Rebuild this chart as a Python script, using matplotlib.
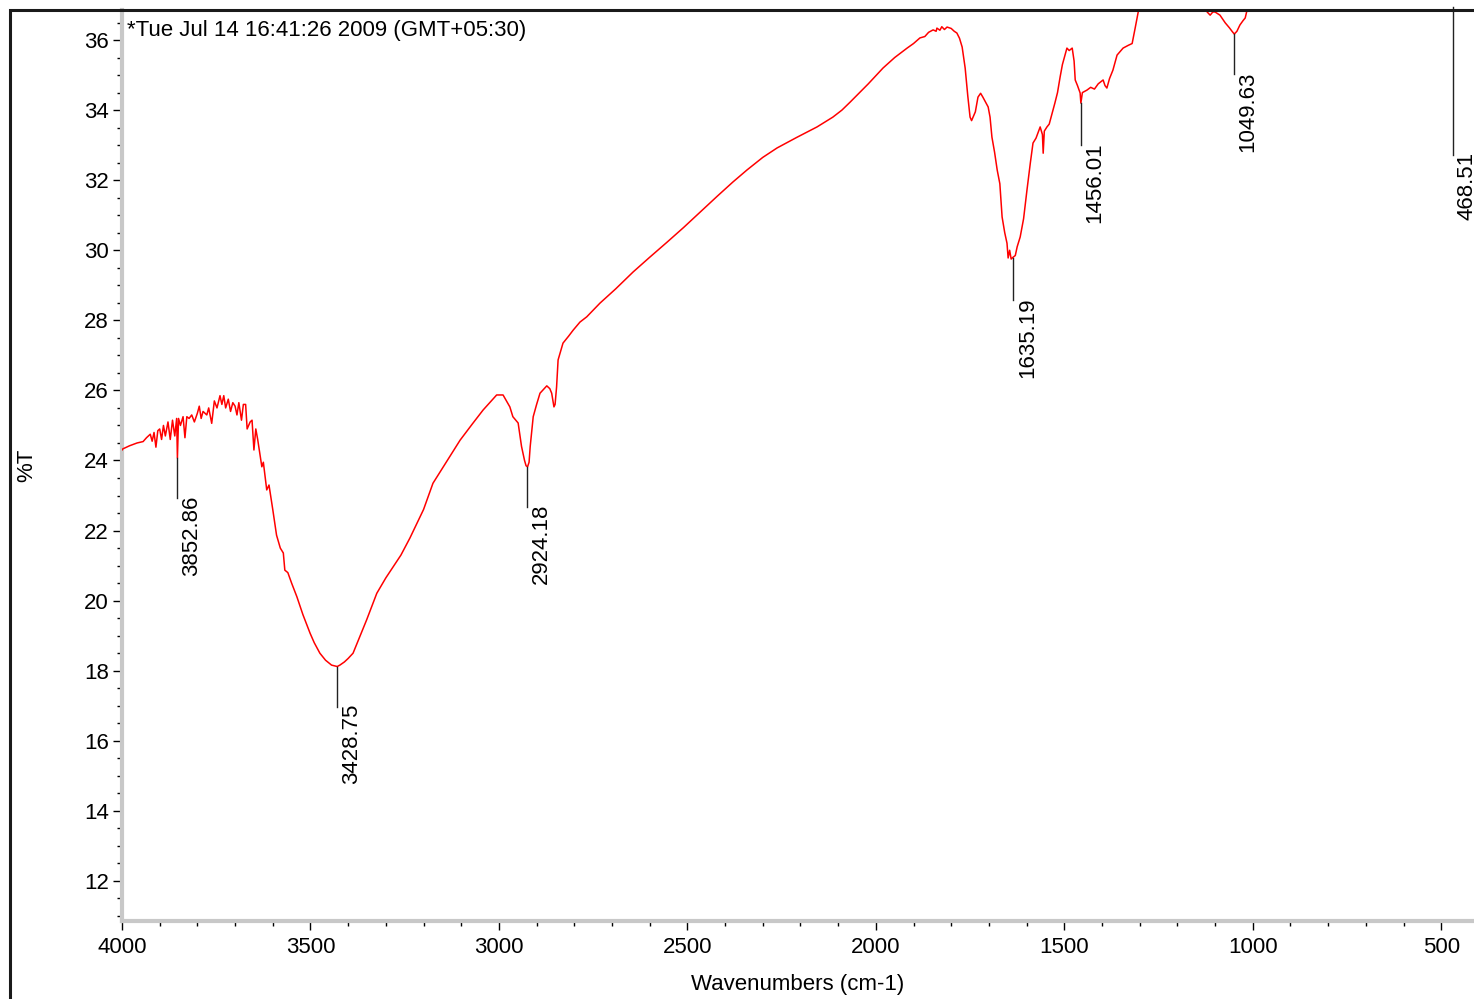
import matplotlib
matplotlib.use("Agg")
import matplotlib.pyplot as plt
from matplotlib.lines import Line2D
from matplotlib.ticker import MultipleLocator

# ---------------- data ----------------
wavenumber = [
    4000, 3998, 3980, 3960, 3944, 3935, 3925, 3920, 3915, 3910,
    3905, 3900, 3895, 3890, 3885, 3878, 3872, 3866, 3860, 3855,
    3853, 3850, 3845, 3838, 3833, 3828, 3822, 3815, 3808, 3800,
    3795, 3790, 3785, 3775, 3770, 3762, 3755, 3748, 3740, 3735,
    3730, 3725, 3718, 3712, 3706, 3700, 3695, 3690, 3683, 3678,
    3672, 3668, 3660, 3655, 3650, 3645, 3640, 3629, 3625, 3616,
    3610, 3600, 3590, 3580, 3572, 3568, 3560, 3550, 3536, 3520,
    3501, 3490, 3475, 3460, 3444, 3429, 3422, 3410, 3400, 3387,
    3370, 3351, 3324, 3300, 3281, 3260, 3236, 3200, 3175, 3140,
    3103, 3070, 3042, 3020, 3006, 2989, 2971, 2963, 2949, 2940,
    2932, 2928, 2924, 2920, 2917, 2909, 2900, 2891, 2880, 2873,
    2865, 2860, 2854, 2851, 2847, 2843, 2830, 2815, 2803, 2785,
    2767, 2732, 2690, 2644, 2600, 2554, 2510, 2466, 2420, 2379,
    2342, 2300, 2262, 2210, 2156, 2114, 2090, 2068, 2020, 1981,
    1950, 1917, 1900, 1883, 1870, 1860, 1848, 1840, 1838, 1830,
    1825, 1818, 1811, 1800, 1792, 1785, 1778, 1771, 1763, 1756,
    1750, 1746, 1742, 1736, 1729, 1722, 1716, 1710, 1702, 1697,
    1692, 1685, 1678, 1671, 1665, 1658, 1652, 1649, 1645, 1641,
    1636, 1630, 1625, 1617, 1608, 1599, 1590, 1583, 1575, 1568,
    1564, 1558, 1556, 1553, 1546, 1540, 1530, 1525, 1518, 1511,
    1505, 1500, 1493, 1487, 1479, 1474, 1471, 1465, 1458, 1456,
    1452, 1440, 1430, 1420, 1410, 1397, 1392, 1387, 1380, 1371,
    1360, 1344, 1330, 1320, 1312, 1304, 1295, 1270, 1240, 1200,
    1160, 1130, 1121, 1113, 1106, 1100, 1087, 1073, 1062, 1055,
    1049, 1042, 1034, 1026, 1020, 1015, 1005, 950, 850, 700,
    560, 500, 468, 440, 413,
]
transmittance = [
    24.30, 24.33, 24.42, 24.50, 24.54, 24.65, 24.75, 24.55, 24.80, 24.38,
    24.85, 24.90, 24.60, 25.00, 24.70, 25.10, 24.60, 25.15, 24.70, 25.20,
    24.07, 25.20, 25.00, 25.25, 24.65, 25.25, 25.20, 25.30, 25.10, 25.35,
    25.55, 25.20, 25.40, 25.30, 25.50, 25.06, 25.70, 25.50, 25.85, 25.60,
    25.85, 25.50, 25.75, 25.40, 25.65, 25.55, 25.30, 25.65, 25.15, 25.60,
    25.60, 24.90, 25.10, 25.15, 24.30, 24.90, 24.60, 23.82, 23.95, 23.16,
    23.30, 22.60, 21.87, 21.50, 21.36, 20.87, 20.80, 20.50, 20.11, 19.60,
    19.07, 18.80, 18.50, 18.30, 18.16, 18.12, 18.16, 18.25, 18.35, 18.50,
    18.95, 19.45, 20.21, 20.65, 20.96, 21.30, 21.79, 22.60, 23.35, 23.95,
    24.58, 25.05, 25.44, 25.70, 25.87, 25.87, 25.53, 25.25, 25.07, 24.40,
    24.00, 23.85, 23.82, 23.95, 24.40, 25.25, 25.60, 25.92, 26.05, 26.13,
    26.05, 25.92, 25.53, 25.60, 26.10, 26.87, 27.35, 27.55, 27.72, 27.95,
    28.10, 28.49, 28.90, 29.38, 29.80, 30.23, 30.65, 31.09, 31.55, 31.95,
    32.29, 32.65, 32.92, 33.22, 33.52, 33.80, 34.00, 34.23, 34.75, 35.20,
    35.50, 35.77, 35.90, 36.06, 36.10, 36.22, 36.29, 36.25, 36.34, 36.28,
    36.38, 36.30, 36.37, 36.33, 36.25, 36.20, 36.05, 35.80, 35.20, 34.40,
    33.80, 33.70, 33.80, 33.95, 34.37, 34.48, 34.37, 34.25, 34.09, 33.80,
    33.23, 32.80, 32.29, 31.90, 30.95, 30.50, 30.20, 29.78, 30.00, 29.75,
    29.80, 29.85, 30.10, 30.38, 30.90, 31.72, 32.50, 33.06, 33.20, 33.40,
    33.52, 33.30, 32.77, 33.40, 33.52, 33.60, 34.00, 34.20, 34.50, 34.95,
    35.30, 35.50, 35.77, 35.70, 35.77, 35.40, 34.86, 34.70, 34.49, 34.20,
    34.50, 34.57, 34.65, 34.60, 34.75, 34.86, 34.70, 34.63, 34.90, 35.14,
    35.57, 35.77, 35.85, 35.90, 36.34, 36.80, 37.30, 38.20, 38.60, 38.40,
    37.80, 37.10, 36.80, 36.71, 36.80, 36.80, 36.71, 36.49, 36.35, 36.25,
    36.17, 36.25, 36.43, 36.55, 36.63, 36.86, 37.40, 38.50, 39.50, 40.50,
    40.80, 40.60, 40.90, 40.70, 40.40,
]

peak_positions = [3852.86, 3428.75, 2924.18, 1635.19, 1456.01, 1049.63, 468.51]
peak_labels = ["3852.86", "3428.75", "2924.18", "1635.19", "1456.01", "1049.63", "468.51"]
peak_values = [24.07, 18.12, 23.82, 29.78, 34.20, 36.17, 36.95]

y_ticks = [12, 14, 16, 18, 20, 22, 24, 26, 28, 30, 32, 34, 36]
x_ticks = [4000, 3500, 3000, 2500, 2000, 1500, 1000, 500]

header_text = "*Tue Jul 14 16:41:26 2009 (GMT+05:30)"
x_label = "Wavenumbers (cm-1)"
y_label = "%T"

# ---------------- figure ----------------
plt.rcParams['font.family'] = ['Liberation Sans', 'DejaVu Sans']
FS = 16
W, H = 1474, 999
fig = plt.figure(figsize=(W / 100, H / 100), dpi=100)

left_px, right_px, top_px, bottom_px = 122, 1474, 10, 921
ax = fig.add_axes([left_px / W, 1 - bottom_px / H,
                   (right_px - left_px) / W, (bottom_px - top_px) / H])

ymin, ymax = 10.857, 36.857
ax.set_xlim(4000, 413)
ax.set_ylim(ymin, ymax)

ax.plot(wavenumber, transmittance, color='#ff0000', lw=1.1, zorder=3)

# peak markers
px_per_unit = (bottom_px - top_px) / (ymax - ymin)
line_len_px = [40, 40, 40, 42, 42, 40, 148]
for pos, lab, val, llen in zip(peak_positions, peak_labels, peak_values, line_len_px):
    y0 = val
    y1 = min(val, ymax + 0.09) - llen / px_per_unit
    ax.plot([pos, pos], [y0, y1], color='#222222', lw=1.0, clip_on=False, zorder=4)
    ax.annotate(lab, xy=(pos, y1), xytext=(2.5, 2), textcoords='offset points',
                rotation=90, ha='left', va='top', fontsize=FS, color='black',
                annotation_clip=False)

ax.text(0.004, 0.989, header_text, transform=ax.transAxes, ha='left', va='top',
        fontsize=FS)

# spines
for s in ['top', 'right']:
    ax.spines[s].set_visible(False)
for s in ['left', 'bottom']:
    ax.spines[s].set_color('#c8c8c8')
    ax.spines[s].set_linewidth(3.0)

ax.set_xticks(x_ticks)
ax.set_xticklabels([str(t) for t in x_ticks])
ax.set_yticks(y_ticks)
ax.set_yticklabels([str(t) for t in y_ticks])
ax.xaxis.set_minor_locator(MultipleLocator(100))
ax.yaxis.set_minor_locator(MultipleLocator(0.5))
ax.tick_params(axis='both', which='major', direction='out', length=6.5, width=1.0,
               color='black', labelsize=FS, pad=3)
ax.tick_params(axis='both', which='minor', direction='out', length=3.5, width=1.0,
               color='black')
ax.tick_params(axis='x', which='major', pad=5)

ax.set_xlabel(x_label, fontsize=FS)
ax.set_ylabel(y_label, fontsize=FS)
ax.xaxis.set_label_coords(0.5, -0.058)
ax.yaxis.set_label_coords(-0.0625, 0.5)

# outer frame (top and left dark lines)
fig.add_artist(Line2D([10 / W, 10 / W, 1.0], [0.0, 1 - 10 / H, 1 - 10 / H],
                      transform=fig.transFigure, color='#1a1a1a', lw=2.2,
                      solid_joinstyle='miter'))

fig.savefig("out.png", dpi=100)
